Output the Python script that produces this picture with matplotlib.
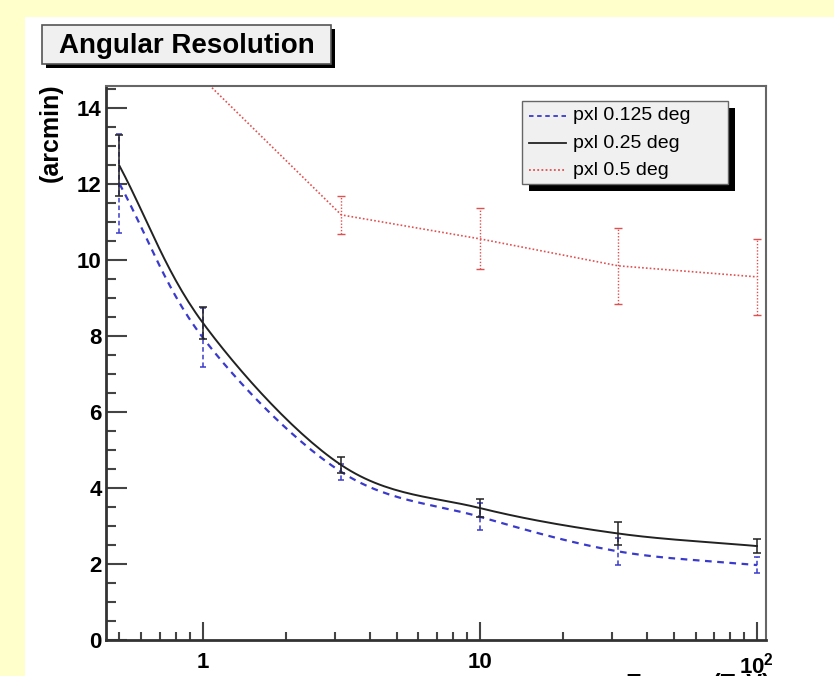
import numpy as np
import matplotlib
matplotlib.use("Agg")
import matplotlib.pyplot as plt
from matplotlib.patches import Rectangle
from matplotlib.lines import Line2D

plt.rcParams['font.family'] = ['Liberation Sans', 'DejaVu Sans']
plt.rcParams['mathtext.fontset'] = 'custom'
plt.rcParams['mathtext.rm'] = 'Liberation Sans'
plt.rcParams['mathtext.bf'] = 'Liberation Sans:bold'

# energy points (TeV)
energy = [0.5, 1.0, 3.16, 10.0, 31.6, 100.0]

# pxl 0.125 deg
res_125 = [12.0, 7.95, 4.42, 3.24, 2.33, 1.97]
err_125 = [1.3, 0.77, 0.22, 0.35, 0.35, 0.2]

# pxl 0.25 deg
res_25 = [12.47, 8.34, 4.6, 3.47, 2.8, 2.47]
err_25 = [0.8, 0.42, 0.2, 0.23, 0.3, 0.18]

# pxl 0.5 deg (first two points are above the frame)
res_5 = [17.5, 14.76, 11.18, 10.55, 9.84, 9.55]
err_5 = [0.0, 0.0, 0.5, 0.8, 1.0, 1.0]

labels = ['pxl 0.125 deg', 'pxl 0.25 deg', 'pxl 0.5 deg']
colors = ['#3a3acc', '#222222', '#e05050']

W, H = 834, 676


def px(x, y):
    # pixel position -> figure fraction
    return x / W, 1 - y / H


def smooth(xs, ys, n=30):
    # catmull-rom through the points in log-x space, only for drawing the line
    lx = np.log10(xs)
    ys = np.asarray(ys, float)
    P = np.column_stack([lx, ys])
    P = np.vstack([2 * P[0] - P[1], P, 2 * P[-1] - P[-2]])
    out = []
    t = np.linspace(0, 1, n)[:, None]
    for i in range(1, len(P) - 2):
        p0, p1, p2, p3 = P[i - 1], P[i], P[i + 1], P[i + 2]
        seg = 0.5 * (2 * p1 + (-p0 + p2) * t + (2 * p0 - 5 * p1 + 4 * p2 - p3) * t ** 2
                     + (-p0 + 3 * p1 - 3 * p2 + p3) * t ** 3)
        out.append(seg)
    out = np.vstack(out)
    return 10 ** out[:, 0], out[:, 1]


fig = plt.figure(figsize=(W / 100, H / 100), dpi=100)
fig.patch.set_facecolor('#ffffcc')
# white pad
fig.patches.append(Rectangle(px(25, 676), (W - 25) / W, (676 - 17) / H,
                             transform=fig.transFigure, facecolor='white', edgecolor='none', zorder=-1))

x0, y0 = px(106, 640)
x1, y1 = px(766, 86)
ax = fig.add_axes([x0, y0, x1 - x0, y1 - y0])
ax.set_zorder(1)
ax.set_facecolor('white')
ax.set_xscale('log')
ax.set_xlim(0.447, 107.8)
ax.set_ylim(0, 14.57)

# blue dashed
sx, sy = smooth(energy, res_125)
ax.plot(sx, sy, color=colors[0], lw=1.6, ls=(0, (3, 2.5)))
eb = ax.errorbar(energy, res_125, yerr=err_125, fmt='none', ecolor=colors[0],
                 elinewidth=1.1, capsize=2.5, capthick=1.1)
eb[2][0].set_linestyle((0, (3, 2)))

# black solid
sx, sy = smooth(energy, res_25)
ax.plot(sx, sy, color=colors[1], lw=1.4)
ax.errorbar(energy, res_25, yerr=err_25, fmt='none', ecolor=colors[1],
            elinewidth=1.1, capsize=3, capthick=1.1)

# red dotted, straight segments
ax.plot(energy, res_5, color=colors[2], lw=1.2, ls=(0, (1, 1.3)))
eb = ax.errorbar(energy[2:], res_5[2:], yerr=err_5[2:], fmt='none', ecolor=colors[2],
                 elinewidth=1.0, capsize=3, capthick=1.0)
eb[2][0].set_linestyle((0, (1, 1.3)))

# axes style
ax.set_yticks([0, 2, 4, 6, 8, 10, 12, 14])
ax.set_yticks(np.arange(0, 14.6, 0.5), minor=True)
ax.set_xticks([1, 10, 100])
ax.set_xticklabels(['1', '10', r'$\mathbf{10^{2}}$'])
ax.tick_params(axis='both', which='both', direction='in', top=False, right=False,
               labelsize=16, width=1.5, color='#444444')
ax.tick_params(axis='y', which='major', length=15, pad=3)
ax.tick_params(axis='y', which='minor', length=7.5)
ax.tick_params(axis='x', which='major', length=13, pad=9)
ax.tick_params(axis='x', which='minor', length=6)
for lab in ax.get_xticklabels() + ax.get_yticklabels():
    lab.set_fontweight('bold')
for side in ['top', 'right']:
    ax.spines[side].set_color('#666666')
    ax.spines[side].set_linewidth(1.5)
for side in ['left', 'bottom']:
    ax.spines[side].set_color('#333333')
    ax.spines[side].set_linewidth(2)

# y axis title (ROOT style, right aligned at top)
fx, fy = px(51, 83)
fig.text(fx, fy, '(arcmin)', rotation=90, ha='center', va='top',
         fontsize=18, fontweight='bold')

# x axis title, mostly cut off by the figure edge
fx, fy = px(770, 673)
fig.text(fx, fy, 'Energy (TeV)', ha='right', va='top', fontsize=17, fontweight='bold')

# title box with shadow
bx, by = px(46, 68)
fig.patches.append(Rectangle((bx, by), 289 / W, 39 / H, transform=fig.transFigure,
                             facecolor='black', edgecolor='none', zorder=2))
bx, by = px(42, 64)
fig.patches.append(Rectangle((bx, by), 289 / W, 39 / H, transform=fig.transFigure,
                             facecolor='#f0f0f0', edgecolor='#555555', lw=1.2, zorder=3))
fx, fy = px(187, 46)
fig.text(fx, fy, 'Angular Resolution', ha='center', va='center', fontsize=20,
         fontweight='bold', zorder=4)

# legend box with shadow
bx, by = px(529, 191)
fig.patches.append(Rectangle((bx, by), 206 / W, 83 / H, transform=fig.transFigure,
                             facecolor='black', edgecolor='none', zorder=5))
bx, by = px(522, 184)
fig.patches.append(Rectangle((bx, by), 206 / W, 83 / H, transform=fig.transFigure,
                             facecolor='#f0f0f0', edgecolor='#666666', lw=1.0, zorder=6))
styles = [(0, (2.5, 2)), '-', (0, (1, 1.3))]
for i, (lab, c, ls) in enumerate(zip(labels, colors, styles)):
    rowy = 116 + 27 * i
    ax0, ay = px(529, rowy)
    ax1_, _ = px(566, rowy)
    fig.lines.append(Line2D([ax0, ax1_], [ay, ay], transform=fig.transFigure,
                            color=c, lw=1.3, ls=ls, zorder=7))
    tx, ty = px(573, rowy)
    fig.text(tx, ty, lab, ha='left', va='center', fontsize=14, zorder=8)

plt.savefig('out.png', dpi=100)
